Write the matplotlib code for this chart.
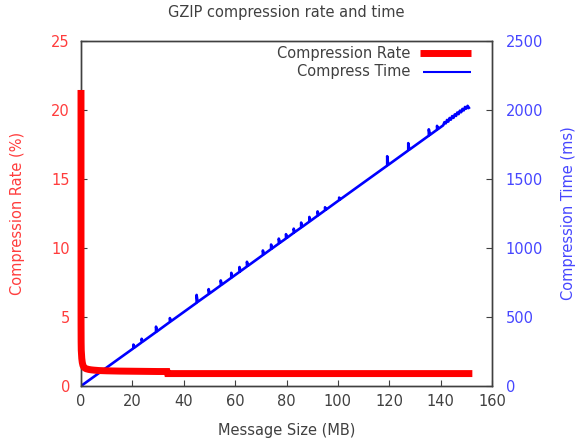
import matplotlib
matplotlib.use("Agg")
import matplotlib.pyplot as plt
from matplotlib.lines import Line2D

# ---- data ----
rate_x = [0.0, 0.002, 0.005, 0.01, 0.02, 0.05, 0.1, 0.2, 0.3, 0.5, 0.75, 1.0,
          1.5, 2.0, 3.0, 4.0, 5.0, 7.0, 10.0, 15.0, 20.0, 25.0, 30.0, 33.5,
          33.7, 40.0, 60.0, 80.0, 100.0, 120.0, 140.0, 151.0]
rate_y = [21.2, 15.0, 9.0, 6.0, 4.5, 3.2, 2.6, 2.3, 2.0, 1.7, 1.5, 1.4,
          1.3, 1.25, 1.2, 1.17, 1.15, 1.12, 1.1, 1.08, 1.07, 1.06, 1.05, 1.05,
          0.9, 0.9, 0.9, 0.9, 0.9, 0.9, 0.9, 0.9]

time_x = [0, 5, 10, 15, 20.4, 20.4, 20.8, 23.6, 23.6, 24.0, 29.2, 29.2, 29.6,
          34.6, 34.6, 35.0, 40, 45, 45, 45.4, 49.7, 49.7, 50.1, 54.4, 54.4, 54.8,
          58.5, 58.5, 58.9, 61.7, 61.7, 62.1, 64.6, 64.6, 65.0, 70.8, 70.8, 71.2,
          74, 74, 74.4, 77, 77, 77.4, 79.8, 79.8, 80.2, 82.8, 82.8, 83.2,
          85.7, 85.7, 86.1, 88.9, 88.9, 89.3, 92.1, 92.1, 92.5, 95, 95, 95.4,
          100.5, 100.5, 100.9, 110, 119.2, 119.2, 119.6, 127.4, 127.4, 127.8,
          135.4, 135.4, 135.8, 138.6, 138.6, 139.0, 141, 141.5, 142, 142.5, 143,
          143.5, 144, 144.5, 145, 145.5, 146, 146.5, 147, 147.5, 148, 148.5,
          149, 149.5, 150, 150.5, 151]
time_y = [0, 67, 134, 201, 273, 300, 278, 316, 342, 321, 391, 430, 396,
          464, 492, 469, 536, 603, 660, 609, 666, 702, 671, 729, 765, 734,
          784, 820, 789, 827, 862, 832, 866, 900, 871, 949, 982, 954,
          992, 1025, 997, 1032, 1068, 1037, 1069, 1100, 1074, 1110, 1140, 1115,
          1148, 1184, 1153, 1191, 1225, 1196, 1234, 1265, 1239, 1273, 1295, 1278,
          1347, 1365, 1352, 1474, 1597, 1665, 1602, 1707, 1760, 1712,
          1814, 1860, 1819, 1857, 1885, 1862, 1889, 1912, 1903, 1928, 1916,
          1942, 1930, 1956, 1943, 1968, 1957, 1982, 1970, 1995, 1984, 2008,
          1997, 2022, 2010, 2030, 2016]

xticks = [0, 20, 40, 60, 80, 100, 120, 140, 160]
rate_ticks = [0, 5, 10, 15, 20, 25]
time_ticks = [0, 500, 1000, 1500, 2000, 2500]

# ---- styling ----
RED_TXT = "#ff3c3c"
BLUE_TXT = "#4646ff"
DARK = "#404040"
FS = 10.5

plt.rcParams["font.family"] = ["DejaVu Sans"]

fig = plt.figure(figsize=(5.78, 4.42), dpi=100)
ax = fig.add_axes([81 / 578, 56 / 442, 411 / 578, 345 / 442])
ax2 = ax.twinx()

ax.plot(rate_x, rate_y, color="#ff0000", lw=5.0, clip_on=False, zorder=3,
        solid_joinstyle="miter")
ax2.plot(time_x, time_y, color="#0000ff", lw=1.9, zorder=2)

ax.set_xlim(0, 160)
ax.set_ylim(0, 25)
ax2.set_ylim(0, 2500)
ax.set_xticks(xticks)
ax.set_yticks(rate_ticks)
ax2.set_yticks(time_ticks)

for a in (ax, ax2):
    for s in a.spines.values():
        s.set_color(DARK)
        s.set_linewidth(1.0)

ax.tick_params(axis="x", direction="in", length=4, colors=DARK, labelsize=FS,
               top=False, pad=6)
ax.tick_params(axis="y", direction="in", length=4, color=DARK,
               labelcolor=RED_TXT, labelsize=FS, right=False, pad=8)
ax2.tick_params(axis="y", direction="in", length=4, color=DARK,
                labelcolor=BLUE_TXT, labelsize=FS, pad=10)

ax.set_xlabel("Message Size (MB)", color=DARK, fontsize=FS, labelpad=10)
ax.set_ylabel("Compression Rate (%)", color=RED_TXT, fontsize=FS, labelpad=19)
ax2.set_ylabel("Compression Time (ms)", color=BLUE_TXT, fontsize=FS, labelpad=12.5)
ax.set_title("GZIP compression rate and time", color=DARK, fontsize=FS, pad=17)

ax.set_zorder(ax2.get_zorder() + 1)
ax.patch.set_visible(False)

# gnuplot-style legend: right-aligned text followed by the sample line
ax.text(0.802, 0.965, "Compression Rate", transform=ax.transAxes,
        ha="right", va="center", color=DARK, fontsize=FS)
ax.text(0.802, 0.911, "Compress Time", transform=ax.transAxes,
        ha="right", va="center", color=DARK, fontsize=FS)
ax.add_line(Line2D([0.826, 0.950], [0.965, 0.965], transform=ax.transAxes,
                   color="#ff0000", lw=5.0, solid_capstyle="butt"))
ax.add_line(Line2D([0.831, 0.948], [0.911, 0.911], transform=ax.transAxes,
                   color="#0000ff", lw=1.5, solid_capstyle="butt"))

fig.savefig("out.png", dpi=100)
